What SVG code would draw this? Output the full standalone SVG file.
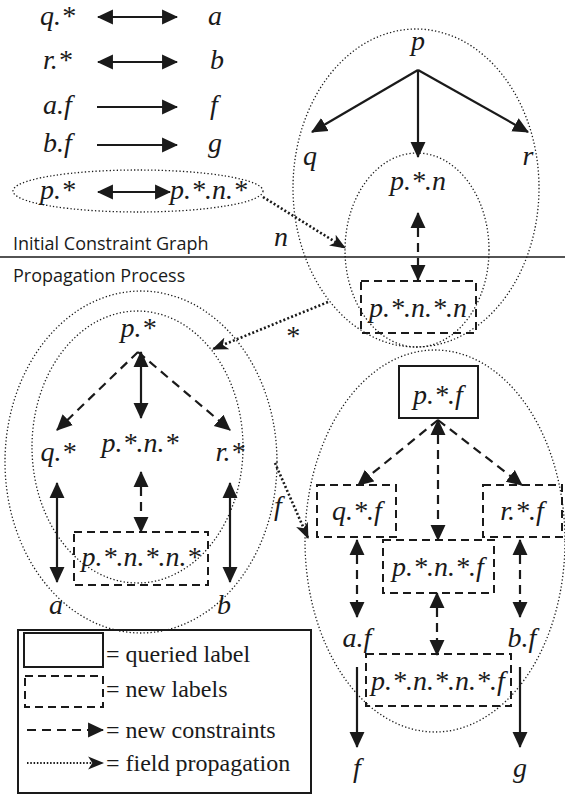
<svg xmlns="http://www.w3.org/2000/svg" width="565" height="795" viewBox="0 0 565 795">
<style>
.it{font-family:"Liberation Serif","Tinos","Times New Roman","Times","Nimbus Roman","Nimbus Roman No9 L","FreeSerif","Noto Serif","DejaVu Serif","STIX Two Text","Georgia",serif;font-style:italic;font-size:28px;fill:#1a1a1a;text-anchor:middle}
.st{text-anchor:start}
.lg{font-family:"Liberation Serif","Tinos","Times New Roman","Times","Nimbus Roman","Nimbus Roman No9 L","FreeSerif","Noto Serif","DejaVu Serif","STIX Two Text","Georgia",serif;font-size:24px;fill:#1a1a1a}
.sans{font-family:"Open Sans","Liberation Sans",sans-serif;font-size:18px;fill:#1a1a1a}
.dot{fill:none;stroke:#1a1a1a;stroke-width:1.3;stroke-dasharray:1.3 2.2}
.solid{fill:none;stroke:#1a1a1a;stroke-width:2.2;marker-end:url(#ah)}
.dbl{fill:none;stroke:#1a1a1a;stroke-width:2.2;marker-end:url(#ah);marker-start:url(#ah)}
.dash{fill:none;stroke:#1a1a1a;stroke-width:2.2;stroke-dasharray:9 6;marker-end:url(#ah)}
.ddbl{fill:none;stroke:#1a1a1a;stroke-width:2.2;stroke-dasharray:9 6;marker-end:url(#ah);marker-start:url(#ah)}
.fp{fill:none;stroke:#1a1a1a;stroke-width:2.6;stroke-dasharray:2 2.2;marker-end:url(#fh)}
.box{fill:none;stroke:#1a1a1a;stroke-width:2;stroke-dasharray:8 5}
.qbox{fill:none;stroke:#1a1a1a;stroke-width:2}
</style>
<defs>
<marker id="ah" markerUnits="userSpaceOnUse" markerWidth="16" markerHeight="16" viewBox="0 0 15 14" refX="14" refY="7" orient="auto-start-reverse">
<path d="M0,0 L15,7 L0,14 z" fill="#1a1a1a"/>
</marker>
<marker id="fh" markerUnits="userSpaceOnUse" markerWidth="16" markerHeight="14" viewBox="0 0 15 12" refX="14" refY="6" orient="auto">
<path d="M0,0 L15,6 L0,12 L4,6 z" fill="#1a1a1a"/>
</marker>
</defs>

<g id="section-labels">
<text class="sans" x="13" y="250">Initial Constraint Graph</text>
<line x1="0" y1="257" x2="565" y2="257" stroke="#1a1a1a" stroke-width="1.6"/>
<text class="sans" x="13" y="282">Propagation Process</text>
</g>

<g id="groups">
<ellipse class="dot" cx="138" cy="191" rx="125" ry="21"/>
<ellipse class="dot" cx="416" cy="188" rx="123" ry="159"/>
<ellipse class="dot" cx="417" cy="250" rx="72" ry="97"/>
<ellipse class="dot" cx="141" cy="462" rx="136" ry="171"/>
<ellipse class="dot" cx="137.5" cy="447" rx="105.5" ry="136"/>
<ellipse class="dot" cx="435" cy="541" rx="130" ry="191"/>
</g>

<g id="initial-constraints">
<text class="it st" x="40" y="25">q.*</text>
<text class="it st" x="208" y="25">a</text>
<text class="it st" x="43" y="69">r.*</text>
<text class="it st" x="210" y="69">b</text>
<text class="it st" x="43" y="114">a.f</text>
<text class="it st" x="210" y="114">f</text>
<text class="it st" x="43" y="152">b.f</text>
<text class="it st" x="208" y="152">g</text>
<text class="it st" x="40" y="199">p.*</text>
<text class="it st" x="170" y="199">p.*.n.*</text>
</g>

<g id="top-graph">
<text class="it" x="418" y="50">p</text>
<text class="it" x="310" y="165">q</text>
<text class="it" x="528" y="165">r</text>
<text class="it" x="418" y="190">p.*.n</text>
<rect class="box" x="361" y="281" width="115" height="52"/>
<text class="it" x="418" y="317">p.*.n.*.n</text>
</g>

<g id="left-graph">
<text class="it" x="138" y="337">p.*</text>
<text class="it" x="58" y="461">q.*</text>
<text class="it" x="140" y="452">p.*.n.*</text>
<text class="it" x="230" y="461">r.*</text>
<rect class="box" x="74" y="532" width="134" height="53"/>
<text class="it" x="141" y="566">p.*.n.*.n.*</text>
<text class="it" x="56" y="614">a</text>
<text class="it" x="224" y="614">b</text>
</g>

<g id="right-graph">
<rect class="qbox" x="399" y="366" width="79" height="52"/>
<text class="it" x="438" y="404">p.*.f</text>
<rect class="box" x="317" y="485" width="79" height="52"/>
<text class="it" x="357" y="520">q.*.f</text>
<rect class="box" x="483" y="485" width="79" height="52"/>
<text class="it" x="522" y="520">r.*.f</text>
<rect class="box" x="383" y="540" width="111" height="53"/>
<text class="it" x="438" y="576">p.*.n.*.f</text>
<text class="it" x="357" y="647">a.f</text>
<text class="it" x="522" y="647">b.f</text>
<rect class="box" x="366" y="654" width="145" height="52"/>
<text class="it" x="438" y="690">p.*.n.*.n.*.f</text>
<text class="it" x="357" y="777">f</text>
<text class="it" x="520" y="777">g</text>
</g>

<g id="legend">
<rect x="18" y="630" width="293" height="163" fill="none" stroke="#1a1a1a" stroke-width="2"/>
<rect class="qbox" x="24" y="633" width="79" height="34"/>
<text class="lg" x="106" y="662">= queried label</text>
<rect class="box" x="25" y="676" width="78" height="31"/>
<text class="lg" x="106" y="697">= new labels</text>
<line class="dash" x1="27" y1="730" x2="103" y2="730"/>
<text class="lg" x="106" y="738">= new constraints</text>
<line class="fp" x1="27" y1="763" x2="103" y2="763" style="stroke-width:2;stroke-dasharray:1.5 1.8"/>
<text class="lg" x="106" y="771">= field propagation</text>
</g>

<g id="connectors">
<line class="dbl" x1="98" y1="17" x2="177" y2="17"/>
<line class="dbl" x1="98" y1="62" x2="177" y2="62"/>
<line class="solid" x1="97" y1="107" x2="177" y2="107"/>
<line class="solid" x1="97" y1="145" x2="177" y2="145"/>
<line class="dbl" x1="98" y1="192" x2="170" y2="192"/>

<line class="solid" x1="418" y1="70" x2="312" y2="132"/>
<line class="solid" x1="418" y1="70" x2="528" y2="132"/>
<line class="solid" x1="418" y1="70" x2="418" y2="157"/>
<line class="ddbl" x1="418" y1="213" x2="418" y2="280"/>

<line class="dash" x1="138" y1="352" x2="57" y2="430"/>
<line class="dash" x1="138" y1="352" x2="230" y2="430"/>
<line class="dbl" x1="141" y1="352" x2="141" y2="418"/>
<line class="dbl" x1="57" y1="483" x2="57" y2="582"/>
<line class="dbl" x1="230" y1="483" x2="230" y2="582"/>
<line class="ddbl" x1="141" y1="472" x2="141" y2="532"/>

<line class="dash" x1="438" y1="420" x2="358" y2="485"/>
<line class="dash" x1="438" y1="420" x2="522" y2="485"/>
<line class="ddbl" x1="438" y1="420" x2="438" y2="540"/>
<line class="ddbl" x1="357" y1="540" x2="357" y2="617"/>
<line class="ddbl" x1="520" y1="540" x2="520" y2="617"/>
<line class="ddbl" x1="437" y1="593" x2="437" y2="655"/>
<line class="solid" x1="357" y1="667" x2="357" y2="747"/>
<line class="solid" x1="520" y1="667" x2="520" y2="747"/>

<line class="fp" x1="263" y1="197" x2="345" y2="248"/>
<line class="fp" x1="328" y1="302" x2="213" y2="349"/>
<line class="fp" x1="275" y1="463" x2="308" y2="538"/>
<text class="it" x="281" y="246">n</text>
<text class="it" x="292" y="345">*</text>
<text class="it" x="278" y="515">f</text>
</g>
</svg>
